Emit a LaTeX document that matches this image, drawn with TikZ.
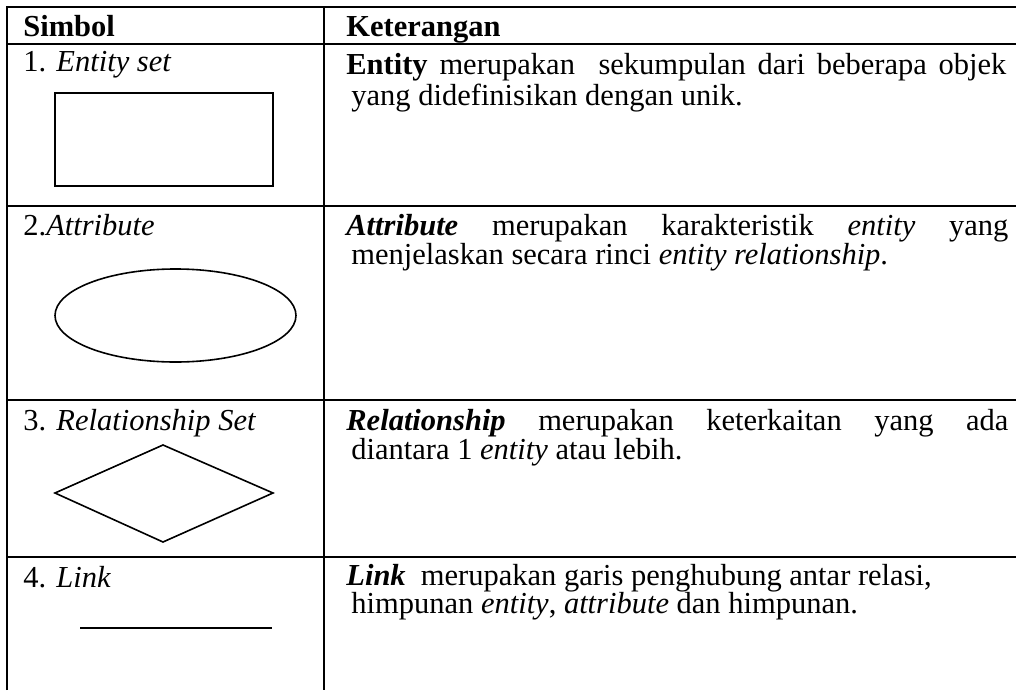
\documentclass[tikz,border=0pt]{standalone}
\usepackage{fontspec}
\setmainfont{Liberation Serif}
\begin{document}
\begin{tikzpicture}[x=0.5pt,y=-0.5pt,
  rule/.style={line width=1pt},
  symline/.style={line width=0.8pt},
  txt/.style={anchor=base west,inner sep=0pt,font=\fontsize{15.25}{15.25}\selectfont},
  head/.style={txt,font=\fontsize{15.25}{15.25}\selectfont\bfseries},
]
\useasboundingbox (0,0) rectangle (1016,690);
%%
% Table rules
\draw [rule] (7,690) -- (7,7) -- (1016,7);
\draw [rule] (7,44) -- (1016,44);
\draw [rule] (7,206) -- (1016,206);
\draw [rule] (7,400) -- (1016,400);
\draw [rule] (7,557) -- (1016,557);
\draw [rule] (324,7) -- (324,690);
% Header
\node [head] (hdsimbol) at (23,37) {Simbol};
\node [head] (hdket) at (346,37) {Keterangan};
% Row: Entity set
\node [txt] (lblentity) at (23,72) {1. \textit{Entity set}};
\draw [symline] (55,93) rectangle (273,186);
\node [txt] (entityA) at (346,75) {\makebox[330pt][s]{\textbf{Entity} merupakan\ \ sekumpulan dari beberapa objek}};
\node [txt] (entityB) at (351,105) {yang didefinisikan dengan unik.};
% Row: Attribute
\node [txt] (lblattr) at (23,235) {2.\textit{Attribute}};
\draw [symline] (175.5,315.5) ellipse [x radius=60.25pt, y radius=23.25pt];
\node [txt] (attrA) at (346,235) {\makebox[331pt][s]{\textbf{\textit{Attribute}} merupakan karakteristik \textit{entity} yang}};
\node [txt] (attrB) at (351,264) {menjelaskan secara rinci \textit{entity relationship}.};
% Row: Relationship set
\node [txt] (lblrel) at (23,430) {3. \textit{Relationship Set}};
\draw [symline] (55,493) -- (163,445) -- (273,493) -- (163,542) -- cycle;
\node [txt] (relA) at (346,430) {\makebox[331pt][s]{\textbf{\textit{Relationship}} merupakan keterkaitan yang ada}};
\node [txt] (relB) at (351,459) {diantara 1 \textit{entity} atau lebih.};
% Row: Link
\node [txt] (lbllink) at (23,587) {4. \textit{Link}};
\draw [symline] (80,628) -- (272,628);
\node [txt] (linkA) at (346,585) {\textbf{\textit{Link}}\ \ merupakan garis penghubung antar relasi,};
\node [txt] (linkB) at (351,613) {himpunan \textit{entity}, \textit{attribute} dan himpunan.};
%
\end{tikzpicture}
\end{document}
